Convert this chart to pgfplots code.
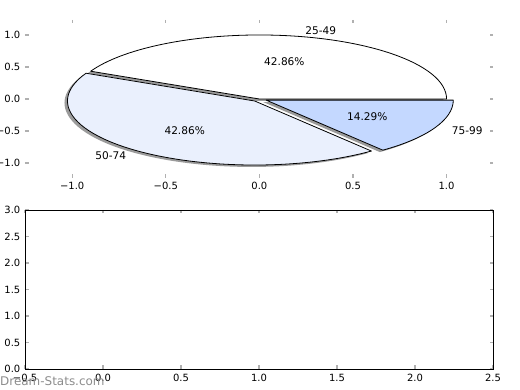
\documentclass[border=0pt]{standalone}
\usepackage{pgfplots}
\pgfplotsset{compat=1.18}
\usepackage{fontspec}
\setmainfont{DejaVu Sans}
\definecolor{wA}{HTML}{FFFFFF}
\definecolor{wB}{HTML}{EAF0FD}
\definecolor{wC}{HTML}{C4D8FF}
\definecolor{tickgray}{HTML}{B0B0B0}
\definecolor{shadowgray}{HTML}{7A7A7A}
\definecolor{wmgray}{HTML}{8C8C8C}

% pie data (counts)
\def\valA{3}\def\valB{3}\def\valC{1}
\def\XR{187.2bp}\def\YR{64.02bp}

% #1 start, #2 end, #3 explode
\newcommand{\pieShadow}[3]{%
  \pgfmathsetmacro\pmid{(#1+#2)/2}%
  \pgfmathsetmacro\pcx{#3*cos(\pmid)-0.016}%
  \pgfmathsetmacro\pcy{#3*sin(\pmid)-0.03}%
  \pgfmathsetmacro\psx{\pcx+cos(#1)}%
  \pgfmathsetmacro\psy{\pcy+sin(#1)}%
  \edef\tmp{\noexpand\fill[shadowgray, opacity=0.75] (axis cs:\pcx,\pcy) -- (axis cs:\psx,\psy) arc[start angle=#1, end angle=#2, x radius=\XR, y radius=\YR] -- cycle;}%
  \tmp
}
% #1 start, #2 end, #3 explode, #4 colour, #5 label, #6 pct, #7 label anchor
\newcommand{\pieWedge}[7]{%
  \pgfmathsetmacro\pmid{(#1+#2)/2}%
  \pgfmathsetmacro\pcx{#3*cos(\pmid)}%
  \pgfmathsetmacro\pcy{#3*sin(\pmid)}%
  \pgfmathsetmacro\psx{\pcx+cos(#1)}%
  \pgfmathsetmacro\psy{\pcy+sin(#1)}%
  \pgfmathsetmacro\plx{\pcx+1.1*cos(\pmid)}%
  \pgfmathsetmacro\ply{\pcy+1.1*sin(\pmid)}%
  \pgfmathsetmacro\ppx{\pcx+0.6*cos(\pmid)}%
  \pgfmathsetmacro\ppy{\pcy+0.6*sin(\pmid)}%
  \edef\tmp{\noexpand\filldraw[fill=#4, draw=black, line width=0.8bp, line join=round] (axis cs:\pcx,\pcy) -- (axis cs:\psx,\psy) arc[start angle=#1, end angle=#2, x radius=\XR, y radius=\YR] -- cycle;
  \noexpand\node[anchor=#7, inner sep=0pt, font=\noexpand\fontsize{10.6}{12}\noexpand\selectfont] at (axis cs:\plx,\ply) {#5};
  \noexpand\node[inner sep=0pt, font=\noexpand\fontsize{10.6}{12}\noexpand\selectfont] at (axis cs:\ppx,\ppy) {#6};}%
  \tmp
}

\begin{document}
\begin{tikzpicture}[font=\fontsize{10}{12}\selectfont]
\path[use as bounding box] (0,0) rectangle (520bp,390bp);
\pgfmathsetmacro\angA{0}
\pgfmathsetmacro\angB{360*\valA/(\valA+\valB+\valC)}
\pgfmathsetmacro\angC{360*(\valA+\valB)/(\valA+\valB+\valC)}
\pgfmathsetmacro\angD{360}
\begin{axis}[
  at={(25bp,212bp)}, anchor=south west,
  scale only axis, width=468bp, height=158bp,
  xmin=-1.252, xmax=1.248, ymin=-1.234, ymax=1.234,
  axis line style={draw=none},
  xtick={-1,-0.5,0,0.5,1},
  xticklabels={−1.0,−0.5,0.0,0.5,1.0},
  ytick={-1,-0.5,0,0.5,1},
  yticklabels={−1.0,−0.5,0.0,0.5,1.0},
  tick align=inside, major tick length=3.5bp,
  tick style={draw=tickgray, line width=1.2bp},
  xticklabel style={inner sep=0pt, yshift=-4bp},
  yticklabel style={inner sep=0pt, xshift=-4.5bp},
  clip=false,
]
\pieShadow{\angA}{\angB}{0}
\pieShadow{\angB}{\angC}{0.04}
\pieShadow{\angC}{\angD}{0.04}
\pieWedge{\angA}{\angB}{0}{wA}{25-49}{42.86\%}{west}
\pieWedge{\angB}{\angC}{0.04}{wB}{50-74}{42.86\%}{east}
\pieWedge{\angC}{\angD}{0.04}{wC}{75-99}{14.29\%}{west}
\end{axis}
\begin{axis}[
  at={(25bp,21bp)}, anchor=south west,
  scale only axis, width=468bp, height=159bp,
  xmin=-0.5, xmax=2.5, ymin=0, ymax=3,
  axis line style={draw=black, line width=0.9bp},
  xtick={-0.5,0,0.5,1,1.5,2,2.5},
  xticklabels={−0.5,0.0,0.5,1.0,1.5,2.0,2.5},
  ytick={0,0.5,1,1.5,2,2.5,3},
  yticklabels={0.0,0.5,1.0,1.5,2.0,2.5,3.0},
  tick align=inside, major tick length=3.5bp,
  tick style={draw=tickgray, line width=1.2bp},
  xticklabel style={inner sep=0pt, yshift=-5bp},
  yticklabel style={inner sep=0pt, xshift=-4.5bp},
]
\end{axis}
\node[anchor=west, inner sep=0pt, text=wmgray, font=\fontsize{12}{14}\selectfont] at (0bp,9bp) {Dream-Stats.com};
\end{tikzpicture}
\end{document}
